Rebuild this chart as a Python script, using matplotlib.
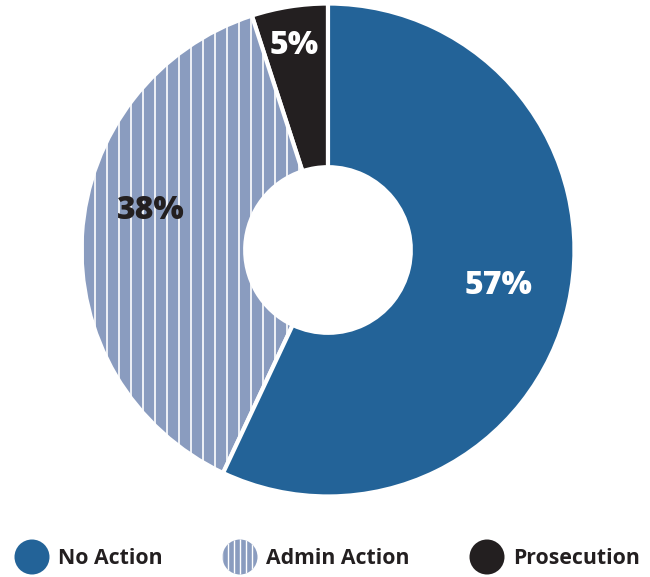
"""Donut chart of case outcomes."""

import numpy as np
import matplotlib.pyplot as plt
from matplotlib.patches import Circle

# outcome shares, drawn counter-clockwise from 12 o'clock
labels = ["Prosecution", "Admin Action", "No Action"]
shares = [5, 38, 57]
colors = ["#231F20", "#8A9CBF", "#236398"]
label_colors = ["white", "#231F20", "white"]

# legend order as printed under the chart
legend_order = ["No Action", "Admin Action", "Prosecution"]

# label placement: distance from centre and angular nudge from wedge middle
label_radius = [0.845, 0.74, 0.71]
label_nudge = [0.5, -8.8, 0.7]

HEAVY = ["Open Sans", "DejaVu Sans"]

fig = plt.figure(figsize=(6.5, 5.77), dpi=100)
ax = fig.add_axes([83 / 650, 82 / 577, 490 / 650, 490 / 577])

wedges, _ = ax.pie(
    shares,
    colors=colors,
    startangle=90,
    counterclock=True,
    radius=1.006,
    wedgeprops=dict(width=0.668, edgecolor="white", linewidth=3),
)
ax.set_xlim(-1, 1)
ax.set_ylim(-1, 1)
ax.set_aspect("equal")
ax.axis("off")

# white vertical stripes across the admin wedge
admin = wedges[labels.index("Admin Action")]
step = 12 / 245
for x in np.arange(-1, 1, step):
    line = ax.axvline(x, color="white", linewidth=1.2, zorder=admin.get_zorder() + 0.1)
    line.set_clip_path(admin)

# percentage labels
for w, share, r, nudge, c in zip(wedges, shares, label_radius, label_nudge, label_colors):
    ang = np.deg2rad((w.theta1 + w.theta2) / 2 + nudge)
    ax.text(r * np.cos(ang), r * np.sin(ang), f"{share}%", color=c,
            fontsize=23, fontweight="heavy", family=HEAVY,
            ha="center", va="center", zorder=6)

# legend row drawn in pixel space
lg = fig.add_axes([0, 0, 1, 1])
lg.set_xlim(0, 650)
lg.set_ylim(577, 0)
lg.axis("off")
lg.patch.set_alpha(0)

legend_x = [32, 240, 487]
legend_y = 557
for name, cx in zip(legend_order, legend_x):
    i = labels.index(name)
    dot = Circle((cx, legend_y), 17.5, facecolor=colors[i], edgecolor="none")
    lg.add_patch(dot)
    if name == "Admin Action":
        for x in np.arange(cx - 18, cx + 18, 6):
            ln = lg.axvline(x, color="white", linewidth=1.0)
            ln.set_clip_path(dot)
    lg.text(cx + 26, legend_y + 1, name, color="#231F20", fontsize=15.3,
            fontweight="bold", family=HEAVY, ha="left", va="center")

fig.savefig("out.png", dpi=100)
